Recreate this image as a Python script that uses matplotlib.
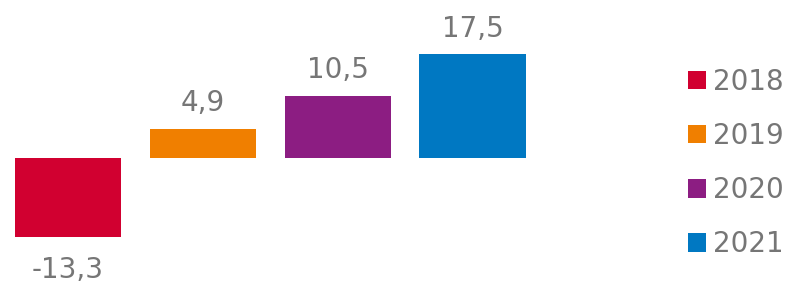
import matplotlib.pyplot as plt
from matplotlib.patches import Patch

years = ["2018", "2019", "2020", "2021"]
values = [-13.3, 4.9, 10.5, 17.5]
colors = ["#D10030", "#F07F00", "#8C1D82", "#0078C2"]
text_color = "#767676"

plt.rcParams["font.family"] = "DejaVu Sans"

fig = plt.figure(figsize=(7.87, 2.83), dpi=100)
ax = fig.add_axes([0, 0, 1, 1])

x = list(range(len(years)))
bars = ax.bar(x, values, width=0.79, color=colors)

# value labels, comma as decimal separator
for xi, v in zip(x, values):
    lab = f"{v:.1f}".replace(".", ",")
    if v >= 0:
        ax.annotate(lab, (xi, v), xytext=(0, 8.5), textcoords="offset points",
                    ha="center", va="bottom", fontsize=20, color=text_color)
    else:
        ax.annotate(lab, (xi, v), xytext=(0, -14), textcoords="offset points",
                    ha="center", va="top", fontsize=20, color=text_color)

ax.set_xlim(-0.504, 5.33)
ax.set_ylim(-21.1, 26.7)
ax.axis("off")

handles = [Patch(facecolor=c, edgecolor="none") for c in colors]
ax.legend(handles, years, loc="center left", bbox_to_anchor=(0.874, 0.424),
          frameon=False, fontsize=20, labelcolor=text_color,
          handlelength=0.65, handleheight=0.65, handletextpad=0.25,
          labelspacing=0.94, borderpad=0, borderaxespad=0)

fig.savefig("out.png", dpi=100)
